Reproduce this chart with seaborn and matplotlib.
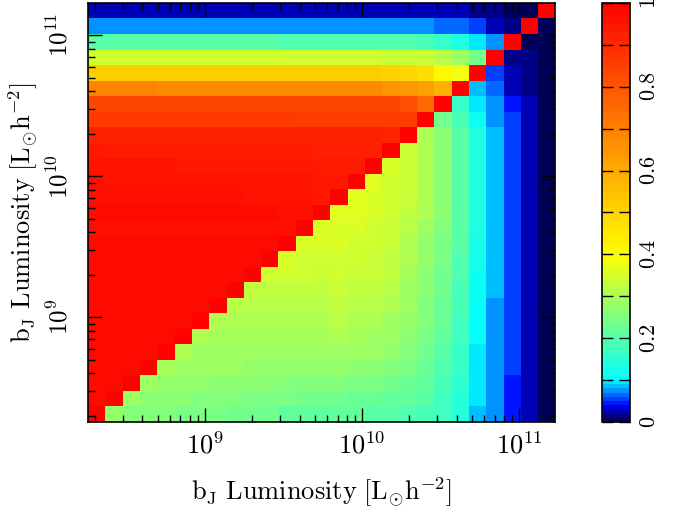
import numpy as np
import pandas as pd
import matplotlib
matplotlib.use("Agg")
import matplotlib.pyplot as plt
import seaborn as sns
from matplotlib.colors import LinearSegmentedColormap, ListedColormap
from matplotlib.ticker import FixedLocator

plt.rcParams['mathtext.fontset'] = 'cm'
plt.rcParams['font.family'] = ['DejaVu Serif']

# luminosity bins: 27 equal log bins
log_lo, log_hi = 8.257, 11.23
n_bins = 27

# correlation matrix, row 0 = faintest bin (bottom), column 0 = faintest bin (left)
rows = [
    [1.0, 0.275, 0.255, 0.25, 0.25, 0.24, 0.24, 0.24, 0.23, 0.23, 0.23, 0.215, 0.21, 0.21,
     0.21, 0.21, 0.205, 0.2, 0.195, 0.185, 0.17, 0.14, 0.088, 0.07, 0.048, 0.022, 0.003],
    [0.97, 1.0, 0.28, 0.26, 0.26, 0.26, 0.25, 0.25, 0.25, 0.24, 0.24, 0.24, 0.235, 0.235,
     0.23, 0.225, 0.22, 0.215, 0.21, 0.2, 0.175, 0.145, 0.09, 0.071, 0.048, 0.022, 0.003],
    [0.97] * 2 + [1.0] + [0.29, 0.27, 0.27, 0.27, 0.26, 0.26, 0.26, 0.26, 0.25, 0.25, 0.25]
    + [0.25, 0.245, 0.24, 0.235, 0.225, 0.21, 0.185, 0.15, 0.092, 0.072, 0.049, 0.022, 0.003],
    [0.97] * 3 + [1.0] + [0.293, 0.28, 0.28, 0.28, 0.28, 0.27, 0.27, 0.27, 0.27, 0.27]
    + [0.27, 0.265, 0.26, 0.255, 0.24, 0.225, 0.195, 0.16, 0.095, 0.074, 0.05, 0.023, 0.003],
    [0.97] * 4 + [1.0] + [0.3, 0.29, 0.29, 0.29, 0.29, 0.28, 0.28, 0.28, 0.28]
    + [0.29, 0.285, 0.28, 0.27, 0.255, 0.235, 0.205, 0.165, 0.098, 0.075, 0.05, 0.023, 0.003],
    [0.97] * 5 + [1.0] + [0.3, 0.295, 0.295, 0.295, 0.295, 0.295, 0.295, 0.295]
    + [0.3, 0.295, 0.29, 0.28, 0.265, 0.245, 0.215, 0.17, 0.1, 0.076, 0.051, 0.023, 0.003],
    [0.97] * 6 + [1.0] + [0.307, 0.3, 0.3, 0.3, 0.3, 0.3, 0.3]
    + [0.31, 0.305, 0.3, 0.29, 0.27, 0.25, 0.22, 0.175, 0.1, 0.078, 0.052, 0.024, 0.003],
    [0.97] * 7 + [1.0] + [0.316, 0.31, 0.31, 0.31, 0.31, 0.31]
    + [0.32, 0.315, 0.31, 0.3, 0.28, 0.255, 0.225, 0.18, 0.105, 0.079, 0.053, 0.024, 0.003],
    [0.97] * 8 + [1.0] + [0.325, 0.325, 0.322, 0.32, 0.32]
    + [0.33, 0.325, 0.32, 0.31, 0.29, 0.26, 0.23, 0.185, 0.11, 0.08, 0.054, 0.024, 0.003],
    [0.97] * 9 + [1.0] + [0.34, 0.34, 0.34, 0.33]
    + [0.34, 0.335, 0.33, 0.32, 0.295, 0.265, 0.235, 0.19, 0.115, 0.081, 0.054, 0.025, 0.003],
    [0.97] * 10 + [1.0] + [0.355, 0.345, 0.34]
    + [0.345, 0.34, 0.335, 0.325, 0.3, 0.27, 0.24, 0.195, 0.12, 0.082, 0.055, 0.025, 0.003],
    [0.97] * 11 + [1.0] + [0.355, 0.35]
    + [0.35, 0.345, 0.34, 0.33, 0.305, 0.275, 0.245, 0.2, 0.125, 0.083, 0.055, 0.025, 0.003],
    [0.965] * 12 + [1.0] + [0.355]
    + [0.355, 0.35, 0.345, 0.335, 0.31, 0.28, 0.25, 0.2, 0.13, 0.084, 0.055, 0.025, 0.003],
    [0.97] * 11 + [0.965, 0.965] + [1.0]
    + [0.365, 0.36, 0.35, 0.34, 0.325, 0.3, 0.26, 0.2, 0.13, 0.084, 0.055, 0.025, 0.003],
    [0.96] * 9 + [0.955] * 4 + [0.945] + [1.0]
    + [0.365, 0.355, 0.345, 0.33, 0.3, 0.26, 0.2, 0.13, 0.084, 0.055, 0.025, 0.003],
    [0.96] + [0.95] * 12 + [0.94, 0.94] + [1.0]
    + [0.36, 0.345, 0.33, 0.3, 0.26, 0.2, 0.13, 0.084, 0.055, 0.025, 0.003],
    [0.95] * 5 + [0.94] * 8 + [0.935] * 3 + [1.0]
    + [0.35, 0.33, 0.3, 0.26, 0.2, 0.13, 0.084, 0.055, 0.025, 0.003],
    [0.94] + [0.93] * 12 + [0.925] * 4 + [1.0]
    + [0.335, 0.3, 0.26, 0.2, 0.13, 0.084, 0.055, 0.025, 0.003],
    [0.925] * 13 + [0.92] * 4 + [0.915] + [1.0]
    + [0.305, 0.26, 0.2, 0.13, 0.082, 0.055, 0.025, 0.003],
    [0.862] * 12 + [0.855] * 6 + [0.85] + [1.0]
    + [0.235, 0.18, 0.115, 0.078, 0.05, 0.025, 0.003],
    [0.83] * 18 + [0.81, 0.75] + [1.0]
    + [0.16, 0.097, 0.072, 0.045, 0.025, 0.003],
    [0.69] * 4 + [0.675] * 13 + [0.65, 0.64, 0.625, 0.585] + [1.0]
    + [0.084, 0.063, 0.028, 0.013, 0.003],
    [0.51] * 17 + [0.5, 0.49, 0.47, 0.41, 0.38] + [1.0]
    + [0.05, 0.025, 0.013, 0.003],
    [0.34] * 17 + [0.335, 0.335, 0.33, 0.31, 0.29, 0.23] + [1.0]
    + [0.019, 0.012, 0.003],
    [0.2] * 11 + [0.195] * 8 + [0.185, 0.166, 0.138, 0.094, 0.07] + [1.0]
    + [0.005, 0.003],
    [0.078] * 17 + [0.076, 0.076, 0.074, 0.068, 0.063, 0.05, 0.027, 0.019] + [1.0]
    + [0.0],
    [0.025] * 18 + [0.024] * 3 + [0.022, 0.018, 0.015, 0.009, 0.005] + [1.0],
]
corr = pd.DataFrame(np.array(rows))

# colour scale: navy -> blue -> cyan -> yellow -> red, in 100 steps
smooth = LinearSegmentedColormap.from_list(
    "lum_smooth", [(0.0, (0, 0, 0.25)), (0.04, (0, 0, 1)), (0.1, (0, 1, 1)),
                   (0.4, (1, 1, 0)), (1.0, (1, 0, 0))], N=1024)
cmap = ListedColormap(smooth(np.linspace(0.005, 0.995, 100)), name="lum")

fig = plt.figure(figsize=(6.73, 5.12), dpi=100)
ax = fig.add_axes([0.1308, 0.1758, 0.6946, 0.8184])
cax = fig.add_axes([0.8945, 0.1758, 0.0416, 0.8184])

sns.heatmap(corr, ax=ax, cbar_ax=cax, cmap=cmap, vmin=0, vmax=1,
            xticklabels=False, yticklabels=False)
ax.invert_yaxis()

for s in ax.spines.values():
    s.set_visible(True)
    s.set_linewidth(1.2)
    s.set_color('black')

step = (log_hi - log_lo) / n_bins


def to_cell(lum):
    return (np.log10(lum) - log_lo) / step


major = [1e9, 1e10, 1e11]
minor = [k * 10.0 ** e for e in (8, 9, 10, 11) for k in range(2, 10)
         if log_lo < np.log10(k * 10.0 ** e) < log_hi]
labels = [r"$10^{9}$", r"$10^{10}$", r"$10^{11}$"]

for axis in (ax.xaxis, ax.yaxis):
    axis.set_major_locator(FixedLocator(to_cell(np.array(major))))
    axis.set_minor_locator(FixedLocator(to_cell(np.array(minor))))
ax.set_xticklabels(labels, fontsize=19)
ax.set_yticklabels(labels, fontsize=18, rotation=90, va='center')
ax.tick_params(axis='both', which='both', direction='in', top=True, right=True,
               bottom=True, left=True, color='black', width=1)
ax.tick_params(axis='both', which='major', length=10)
ax.tick_params(axis='both', which='minor', length=5)
ax.tick_params(axis='x', which='major', pad=7)
ax.tick_params(axis='y', which='major', pad=11)

lab = r"$\mathrm{b_J\ Luminosity\ [L_{\odot}h^{-2}]}$"
ax.set_xlabel(lab, fontsize=19, labelpad=12)
ax.set_ylabel(lab, fontsize=19)
ax.yaxis.set_label_coords(-0.102, 0.5)

# colour bar
cbar = ax.collections[0].colorbar
cbar.outline.set_visible(True)
cbar.outline.set_linewidth(1.2)
cbar.outline.set_edgecolor('black')
cbar.set_ticks([0, 0.2, 0.4, 0.6, 0.8, 1.0])
cbar.set_ticklabels([r"$0$", r"$0.2$", r"$0.4$", r"$0.6$", r"$0.8$", r"$1$"])
cax.yaxis.set_minor_locator(FixedLocator([0.1, 0.3, 0.5, 0.7, 0.9]))
cax.tick_params(axis='y', which='both', direction='in', left=True, right=True,
                length=8, width=1, color='black')
cax.tick_params(axis='y', which='major', labelsize=16, pad=6)
for t in cax.get_yticklabels():
    t.set_rotation(90)
    t.set_va('center')

fig.savefig("out.png", dpi=100)
